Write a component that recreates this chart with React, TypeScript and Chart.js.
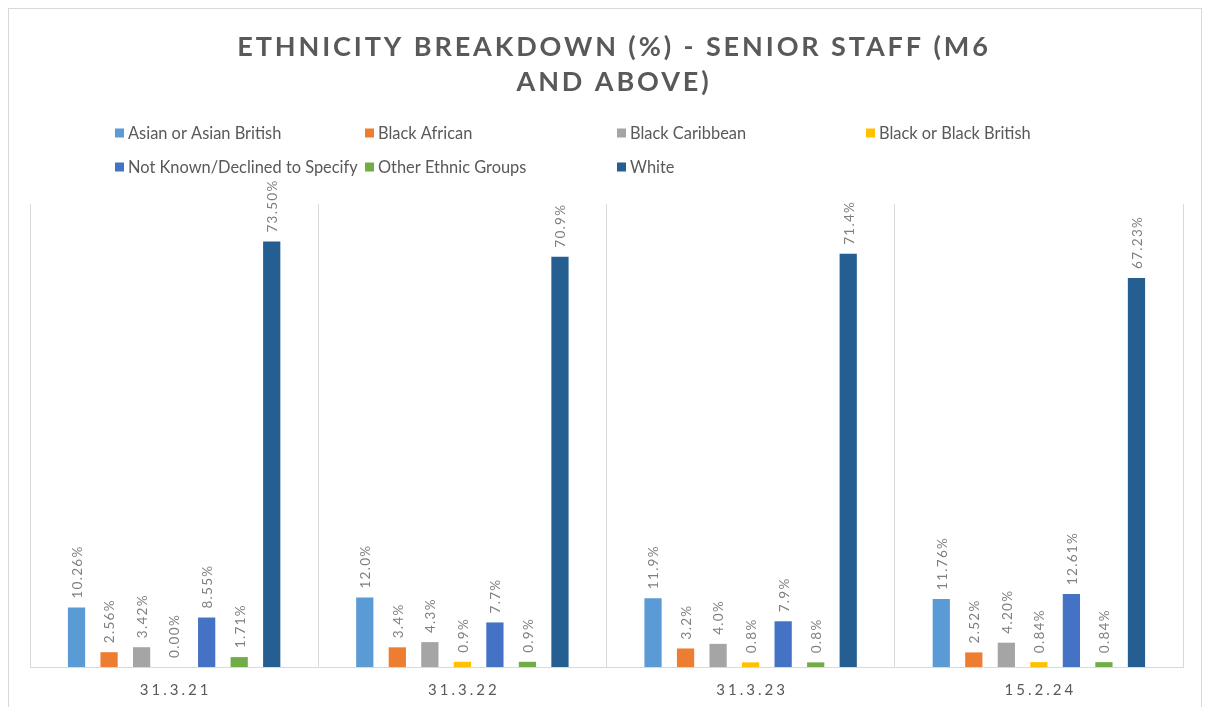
import React, { useEffect, useRef } from "react";
import { Chart, registerables } from "chart.js";

Chart.register(...registerables);

const categories = ["31.3.21", "31.3.22", "31.3.23", "15.2.24"];
const seriesNames = [
  "Asian or Asian British",
  "Black African",
  "Black Caribbean",
  "Black or Black British",
  "Not Known/Declined to Specify",
  "Other Ethnic Groups",
  "White",
];
const asianOrAsianBritish = [10.26, 12.0, 11.9, 11.76];
const blackAfrican = [2.56, 3.4, 3.2, 2.52];
const blackCaribbean = [3.42, 4.3, 4.0, 4.2];
const blackOrBlackBritish = [0.0, 0.9, 0.8, 0.84];
const notKnown = [8.55, 7.7, 7.9, 12.61];
const otherEthnicGroups = [1.71, 0.9, 0.8, 0.84];
const white = [73.5, 70.9, 71.4, 67.23];
const labelDecimals = [2, 1, 1, 2];
const seriesColors = ["#5B9BD5", "#ED7D31", "#A5A5A5", "#FFC000", "#4472C4", "#70AD47", "#255E91"];
const titleLines = ["ETHNICITY BREAKDOWN (%) - SENIOR STAFF (M6", "AND ABOVE)"];

const FONT = "Lato, 'Open Sans', sans-serif";

const decorPlugin = {
  id: "decor",
  beforeDraw(chart: any) {
    const ctx = chart.ctx;
    ctx.save();
    ctx.fillStyle = "#ffffff";
    ctx.fillRect(0, 0, chart.width, chart.height);
    ctx.strokeStyle = "#d9d9d9";
    ctx.lineWidth = 1;
    ctx.strokeRect(8.5, 8.5, 1193, 710);
    ctx.restore();
  },
  afterDraw(chart: any) {
    const ctx = chart.ctx;
    ctx.save();
    // title
    ctx.fillStyle = "#595959";
    ctx.font = `bold 27px ${FONT}`;
    ctx.textAlign = "center";
    ctx.textBaseline = "middle";
    (ctx as any).letterSpacing = "2.9px";
    ctx.fillText(titleLines[0], 614, 47);
    ctx.fillText(titleLines[1], 614, 82);

    // legend
    (ctx as any).letterSpacing = "0px";
    ctx.font = `16.4px ${FONT}`;
    ctx.textAlign = "left";
    const colX = [115, 365, 617, 866];
    const rowY = [133, 167];
    seriesNames.forEach((name, i) => {
      const col = i % 4;
      const row = Math.floor(i / 4);
      const x = colX[col];
      const y = rowY[row];
      ctx.fillStyle = seriesColors[i];
      ctx.fillRect(x, y - 4.5, 9, 9);
      ctx.fillStyle = "#595959";
      ctx.fillText(name, x + 13, y + 1);
    });

    // x tick labels
    const xScale = chart.scales.x;
    ctx.font = `15px ${FONT}`;
    ctx.textAlign = "center";
    (ctx as any).letterSpacing = "3px";
    ctx.fillStyle = "#595959";
    categories.forEach((c, i) => {
      ctx.fillText(c, xScale.getPixelForValue(i) + 1.5, 690);
    });

    // data labels
    ctx.font = `13.5px ${FONT}`;
    (ctx as any).letterSpacing = "1.3px";
    ctx.fillStyle = "#7f7f7f";
    ctx.textAlign = "left";
    ctx.textBaseline = "middle";
    chart.data.datasets.forEach((ds: any, di: number) => {
      const meta = chart.getDatasetMeta(di);
      meta.data.forEach((el: any, i: number) => {
        const v = ds.data[i];
        const txt = v.toFixed(labelDecimals[i]) + "%";
        ctx.save();
        ctx.translate(el.x + 1, el.y - 9);
        ctx.rotate(-Math.PI / 2);
        ctx.fillText(txt, 0, 0);
        ctx.restore();
      });
    });
    ctx.restore();
  },
};

export default function App() {
  const ref = useRef<HTMLCanvasElement>(null);
  useEffect(() => {
    if (!ref.current) return;
    const seriesData = [
      asianOrAsianBritish,
      blackAfrican,
      blackCaribbean,
      blackOrBlackBritish,
      notKnown,
      otherEthnicGroups,
      white,
    ];
    const chart = new Chart(ref.current, {
      type: "bar",
      data: {
        labels: categories,
        datasets: seriesNames.map((name, i) => ({
          label: name,
          data: seriesData[i],
          backgroundColor: seriesColors[i],
          borderWidth: 0,
          categoryPercentage: 0.79,
          barPercentage: 0.53,
        })),
      },
      options: {
        animation: false,
        responsive: false,
        devicePixelRatio: 1,
        layout: { padding: { left: 30, right: 25, top: 204, bottom: 40 } },
        plugins: {
          legend: { display: false },
          title: { display: false },
          tooltip: { enabled: false },
        },
        scales: {
          x: {
            ticks: { display: false },
            grid: { color: "#d9d9d9", drawTicks: false, offset: true, lineWidth: 1 },
            border: { color: "#d9d9d9", width: 1 },
          },
          y: {
            display: false,
            min: 0,
            max: 80,
          },
        },
      },
      plugins: [decorPlugin],
    });
    return () => chart.destroy();
  }, []);
  return (
    <div style={{ position: "absolute", left: 0, top: 0, width: 1208, height: 707 }}>
      <canvas ref={ref} width={1208} height={707} style={{ display: "block" }} />
    </div>
  );
}
